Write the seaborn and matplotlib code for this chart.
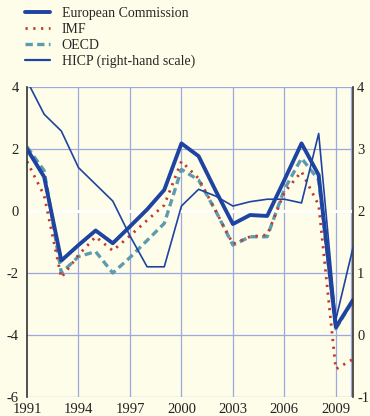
import pandas as pd
import numpy as np
import matplotlib
matplotlib.use("Agg")
import matplotlib.pyplot as plt
import seaborn as sns
from matplotlib.lines import Line2D

# Chart data
years = list(range(1991, 2011))
ec = [2.0, 1.1, -1.6, -1.1, -0.63, -1.04, -0.5, 0.05, 0.68, 2.18,
      1.77, 0.65, -0.42, -0.13, -0.16, 1.0, 2.18, 1.16, -3.75, -2.87]
imf = [1.6, 0.5, -2.15, -1.42, -0.83, -1.28, -0.8, -0.3, 0.19, 1.6,
       1.05, 0.0, -1.06, -0.83, -0.77, 0.6, 1.27, 0.19, -5.1, -4.78]
oecd = [2.07, 1.3, -2.0, -1.47, -1.31, -2.0, -1.5, -0.95, -0.4, 1.34,
        1.0, 0.0, -1.1, -0.83, -0.83, 0.7, 1.7, 1.0, -3.8, -2.87]
hicp = [4.1, 3.56, 3.29, 2.7, 2.43, 2.16, 1.6, 1.1, 1.1, 2.08,
        2.35, 2.24, 2.08, 2.15, 2.19, 2.19, 2.13, 3.25, 0.25, 1.41]
left_ticks = [-6, -4, -2, 0, 2, 4]
right_ticks = [-1, 0, 1, 2, 3, 4]
year_ticks = [1991, 1994, 1997, 2000, 2003, 2006, 2009]

labels = ["European Commission", "IMF", "OECD", "HICP (right-hand scale)"]

bg = "#fefde9"
grid_c = "#9da8e0"
blue = "#1e43a0"
red = "#c0392b"
teal = "#5d9bb0"

sns.set_theme(style="white")
plt.rcParams["font.family"] = ["Liberation Serif", "DejaVu Serif"]

df = pd.DataFrame({"year": years, "EC": ec, "IMF": imf, "OECD": oecd, "HICP": hicp})

fig = plt.figure(figsize=(3.7, 4.16), dpi=100, facecolor=bg)
ax = fig.add_axes([27 / 370, 19 / 416, 326 / 370, 310 / 416])
ax.set_facecolor(bg)

# grid
for yv in [-6, -4, -2, 2, 4]:
    ax.axhline(yv, color=grid_c, lw=0.9, zorder=0)
for xv in year_ticks[1:] + [2009.9]:
    ax.axvline(xv, color=grid_c, lw=0.9, zorder=0)
ax.axhline(0, color="white", lw=2.2, zorder=0.5)

sns.lineplot(data=df, x="year", y="EC", ax=ax, color=blue, lw=2.8, zorder=3)
sns.lineplot(data=df, x="year", y="OECD", ax=ax, color=teal, lw=2.4, zorder=2,
             linestyle=(0, (2.2, 1.3)))
sns.lineplot(data=df, x="year", y="IMF", ax=ax, color=red, lw=2.0, zorder=2.5,
             linestyle=(0, (0.8, 2.0)))

ax.set_xlim(1991, 2010)
ax.set_ylim(-6, 4)
ax.set_yticks(left_ticks)
ax.set_yticklabels([str(t) for t in left_ticks])
ax.set_xticks(year_ticks)
ax.set_xticklabels([str(y) for y in year_ticks])
ax.set_xlabel("")
ax.set_ylabel("")
ax.tick_params(axis="x", length=3, width=1, color="#222222", direction="out",
               pad=1.5, labelsize=10.5, labelcolor="#222222")
ax.tick_params(axis="y", length=0, pad=6, labelsize=10.5, labelcolor="#222222")
for s in ["top", "bottom"]:
    ax.spines[s].set_visible(False)
ax.spines["left"].set_color("#333333")
ax.spines["left"].set_linewidth(1.2)
ax.spines["right"].set_visible(False)

ax2 = ax.twinx()
ax2.patch.set_visible(False)
sns.lineplot(data=df, x="year", y="HICP", ax=ax2, color=blue, lw=1.2, zorder=4)
ax2.set_ylim(-1, 4)
ax2.set_yticks(right_ticks)
ax2.set_yticklabels([str(t) for t in right_ticks])
ax2.set_ylabel("")
ax2.tick_params(axis="y", length=0, pad=3, labelsize=10.5, labelcolor="#222222")
for s in ["top", "bottom", "left"]:
    ax2.spines[s].set_visible(False)
ax2.spines["right"].set_color("#333333")
ax2.spines["right"].set_linewidth(1.2)

handles = [
    Line2D([], [], color=blue, lw=2.8),
    Line2D([], [], color=red, lw=2.0, linestyle=(0, (0.8, 2.0))),
    Line2D([], [], color=teal, lw=2.4, linestyle=(0, (2.2, 1.3))),
    Line2D([], [], color=blue, lw=1.6),
]
fig.legend(handles, labels, loc="upper left", bbox_to_anchor=(25 / 370, 1 - 7 / 416),
           frameon=False, fontsize=10, handlelength=1.8, handletextpad=0.85,
           labelspacing=0.2, borderaxespad=0, borderpad=0)

fig.savefig("out.png", dpi=100, facecolor=bg)
